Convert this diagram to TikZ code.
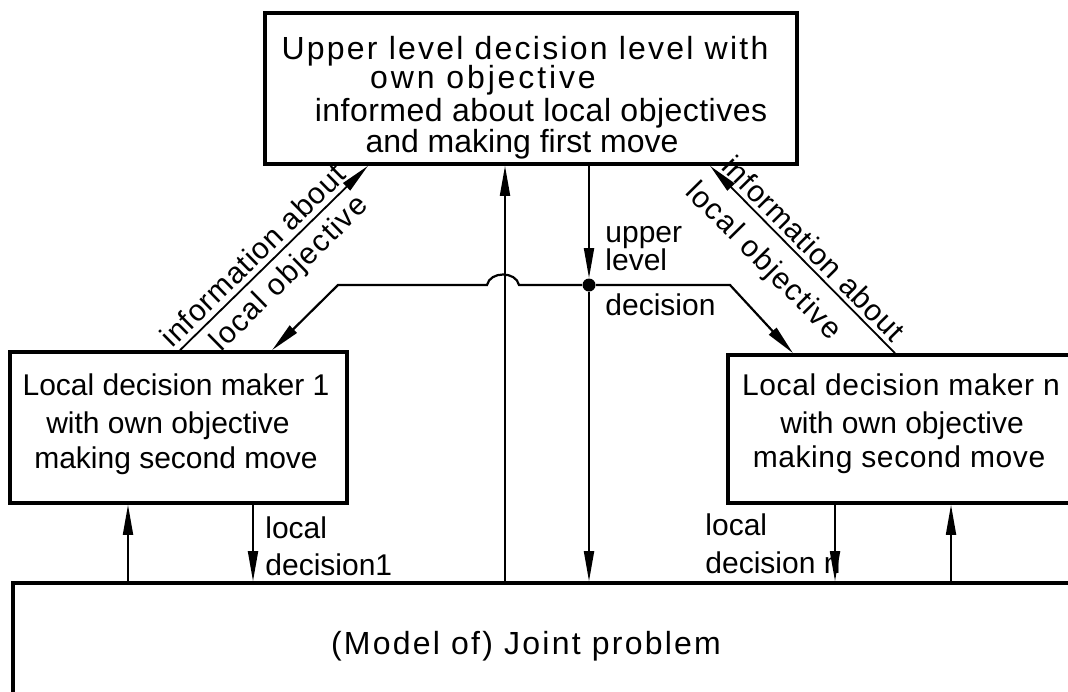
\documentclass[tikz,border=0pt]{standalone}
\usepackage{fontspec}
\setmainfont{Liberation Sans}
\usetikzlibrary{arrows.meta,fit}
\newcommand{\spaced}[2]{{\addfontfeature{LetterSpace=#1}#2}}
\begin{document}
\begin{tikzpicture}[x=0.5pt,y=-0.5pt,
  box/.style={draw, line width=1.8pt, inner sep=0pt},
  conn/.style={line width=0.9pt},
  arr/.style={-{Triangle[length=15pt,width=5pt]}},
  rarr/.style={{Triangle[length=15pt,width=5pt]}-},
  txt/.style={font=\fontsize{15pt}{18pt}\selectfont, inner sep=0pt, anchor=base},
  ltxt/.style={txt, anchor=base west},
  big/.style={font=\fontsize{16pt}{19pt}\selectfont, inner sep=0pt, anchor=base},
  lab/.style={font=\fontsize{15pt}{18pt}\selectfont, sloped}]
\clip (0,0) rectangle (1068,691);
\fill[white] (0,0) rectangle (1068,691);

% boxes
\node[box, fit={(265,13)(797,164)}] (top) {};
\node[box, fit={(10,352)(347,503)}] (lbox) {};
\node[box, fit={(728,355)(1100,503)}] (rbox) {};
\node[box, fit={(13,583)(1100,720)}] (joint) {};

% box texts
\node[big] (t1) at (525,59) {\spaced{7}{Upper level decision level with}};
\node[big] (t2) at (483,88) {\spaced{9}{own objective}};
\node[big] (t3) at (541,121) {\spaced{1.5}{informed about local objectives}};
\node[big] (t4) at (522,152) {and making first move};

\node[txt] (l1) at (176,395) {Local decision maker 1};
\node[txt] (l2) at (168,433) {with own objective};
\node[txt] (l3) at (176,468) {making second move};

\node[txt] (r1) at (901,395) {\spaced{2}{Local decision maker n}};
\node[txt] (r2) at (902,433) {with own objective};
\node[txt] (r3) at (899,467) {\spaced{2}{making second move}};

\node[big] (jt) at (526,654) {\spaced{7}{(Model of) Joint problem}};

% decision labels
\node[ltxt] (u1) at (605,242) {upper};
\node[ltxt] (u2) at (605,270) {level};
\node[ltxt] (u3) at (605,315) {decision};
\node[ltxt] (d1a) at (265,538) {local};
\node[ltxt] (d1b) at (265,575) {decision1};
\node[ltxt] (dna) at (705,535) {local};
\node[ltxt] (dnb) at (705,573) {decision n};

% junction of the upper level decision
\node[circle, fill, inner sep=0pt, minimum size=6.5pt] (dot) at (589,285) {};
\coordinate (hopR) at (519,285);
\coordinate (hopL) at (487,285);
\coordinate (bendL) at (338,285);
\coordinate (bendR) at (730,285);

% vertical connectors
\draw[conn, arr] (128,0 |- joint.north) -- (128,0 |- lbox.south);
\draw[conn, arr] (253,0 |- lbox.south) -- (253,0 |- joint.north);
\draw[conn, arr] (505,0 |- joint.north) -- (505,0 |- top.south);
\draw[conn, arr] (589,0 |- top.south) -- (dot);
\draw[conn, arr] (dot) -- (589,0 |- joint.north);
\draw[conn, arr] (835,0 |- rbox.south) -- (835,0 |- joint.north);
\draw[conn, arr] (951,0 |- joint.north) -- (951,0 |- rbox.south);

% distribution of the upper level decision
\draw[conn, line width=1.1pt, arr] (dot) -- (hopR)
  .. controls (516,271) and (490,271) .. (hopL) -- (bendL) -- (272,0 |- lbox.north);
\draw[conn, line width=1.1pt, arr] (dot) -- (bendR) -- (793,0 |- rbox.north);

% information about local objectives
\draw[conn, arr] (180,0 |- lbox.north) -- (368,0 |- top.south)
  node[lab, pos=0.45, above, inner sep=2.5pt] {\spaced{3}{information about}}
  node[lab, pos=0.5, below, inner sep=4pt] {\spaced{5}{local objective}};
\draw[conn, rarr] (710,0 |- top.south) -- (895,0 |- rbox.north)
  node[lab, pos=0.5, above, inner sep=2pt] {\spaced{3}{information about}}
  node[lab, pos=0.4, below, inner sep=7.5pt] {\spaced{5}{local objective}};
\end{tikzpicture}
\end{document}
